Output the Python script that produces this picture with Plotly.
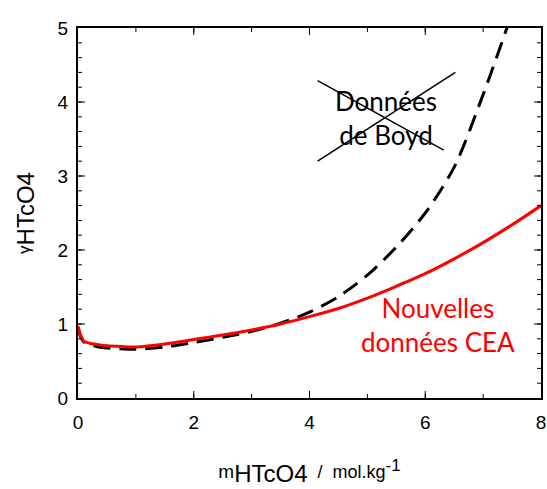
import plotly.graph_objects as go

# Data
m_cea = [0.0, 0.05, 0.1, 0.2, 0.35, 0.5, 0.75, 1.0, 1.5, 2.0, 2.5, 3.0, 3.5, 4.0, 4.5, 5.0, 5.5, 6.0, 6.5, 7.0, 7.5, 8.0]
g_cea = [0.97, 0.84, 0.77, 0.74, 0.72, 0.705, 0.695, 0.69, 0.73, 0.79, 0.85, 0.92, 1.0, 1.1, 1.21, 1.35, 1.51, 1.68, 1.88, 2.1, 2.34, 2.6]

m_boyd = [0.0, 0.05, 0.1, 0.2, 0.35, 0.5, 0.75, 1.0, 1.5, 2.0, 2.5, 3.0, 3.5, 4.0, 4.5, 5.0, 5.5, 6.0, 6.5, 7.0, 7.5]
g_boyd = [0.95, 0.82, 0.76, 0.72, 0.69, 0.675, 0.665, 0.66, 0.69, 0.75, 0.82, 0.9, 1.01, 1.16, 1.37, 1.66, 2.04, 2.5, 3.12, 4.1, 5.2]

x_ticks = [0, 2, 4, 6, 8]
y_ticks = [0, 1, 2, 3, 4, 5]

fig = go.Figure()
fig.add_trace(go.Scatter(x=m_boyd, y=g_boyd, mode="lines",
                         line=dict(color="black", width=3, dash="17px,9px", shape="spline", smoothing=0.8),
                         showlegend=False))
fig.add_trace(go.Scatter(x=m_cea, y=g_cea, mode="lines",
                         line=dict(color="#ff0000", width=3, shape="spline", smoothing=0.8),
                         showlegend=False))

axis_common = dict(showline=True, linewidth=2, linecolor="black", mirror="ticks",
                   ticks="inside", ticklen=7, tickwidth=1, tickcolor="black",
                   showgrid=False, zeroline=False, automargin=False,
                   tickfont=dict(family="Liberation Sans, Arial", size=19, color="black"))

fig.update_xaxes(range=[0, 8], tickmode="array", tickvals=x_ticks, ticklabelstandoff=6,
                 title=dict(text="<span style='font-size:19px'>m</span><sub><span style='font-size:24px'>HTcO4</span></sub>  /  mol.kg<sup><span style='font-size:17px'>-1</span></sup>",
                            font=dict(family="Liberation Sans, Arial", size=18, color="black"),
                            standoff=34),
                 **axis_common)
fig.update_yaxes(range=[0, 5], tickmode="array", tickvals=y_ticks, ticklabelstandoff=4,
                 title=dict(text="<span style='font-size:17px'>γ</span><sub><span style='font-size:24px'>HTcO4</span></sub>",
                            font=dict(family="Liberation Sans, Arial", size=18, color="black"),
                            standoff=22),
                 **axis_common)

# minor tick overlay axes
fig.update_layout(
    xaxis2=dict(overlaying="x", matches="x", range=[0, 8], dtick=1, tick0=0, ticks="inside",
                ticklen=4, tickcolor="black", showticklabels=False, showgrid=False,
                zeroline=False, mirror="ticks", showline=False),
    yaxis2=dict(overlaying="y", matches="y", range=[0, 5], dtick=0.2, tick0=0, ticks="inside",
                ticklen=4, tickcolor="black", showticklabels=False, showgrid=False,
                zeroline=False, mirror="ticks", showline=False),
)
fig.add_trace(go.Scatter(x=[None], y=[None], xaxis="x2", yaxis="y2", showlegend=False))

fig.add_annotation(x=5.32, y=3.78, xref="x", yref="y", text="Données<br>de Boyd",
                   showarrow=False, font=dict(family="Lato, Open Sans", size=26, color="black"),
                   align="center")
fig.add_shape(type="line", x0=4.14, y0=4.29, x1=6.32, y1=3.35, xref="x", yref="y",
              line=dict(color="black", width=1.5))
fig.add_shape(type="line", x0=4.14, y0=3.20, x1=6.52, y1=4.40, xref="x", yref="y",
              line=dict(color="black", width=1.5))
fig.add_annotation(x=6.22, y=0.99, xref="x", yref="y", text="Nouvelles<br>données CEA",
                   showarrow=False, font=dict(family="Lato, Open Sans", size=26, color="#ff0000"),
                   align="center")

fig.update_layout(width=547, height=489, margin=dict(l=78, r=6, t=28, b=91),
                  plot_bgcolor="white", paper_bgcolor="white")

post = """
var st = document.createElement('style');
st.innerHTML = 'html,body{margin:0;padding:0;overflow:hidden;} path{shape-rendering:auto !important;}';
document.head.appendChild(st);
"""
fig.write_html("out.html", post_script=post, config={"displayModeBar": False})
